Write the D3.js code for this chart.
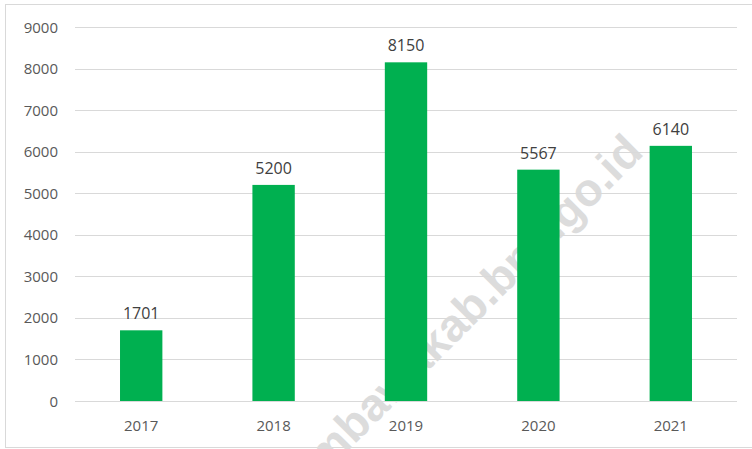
<!DOCTYPE html>
<html lang="en">
    <head>
        <meta charset="utf-8">
        <title>Bar chart 2017-2021</title>
        <script src="https://d3js.org/d3.v7.min.js"></script>
        <style type="text/css">
            body { margin: 0; background: #fff; }
            .tick-label { font-family: "Open Sans", sans-serif; font-size: 15px; fill: #595959; }
            .value-label { font-family: "Open Sans", sans-serif; font-size: 16px; fill: #404040; }
            .watermark { font-family: "Liberation Sans", Arial, sans-serif; font-weight: bold; font-size: 46px; fill: #dcdcdc; }
        </style>
    </head>
    <body>
        <script type="text/javascript">
            //data
            const years = ["2017", "2018", "2019", "2020", "2021"];
            const values = [1701, 5200, 8150, 5567, 6140];
            const yTicks = [0, 1000, 2000, 3000, 4000, 5000, 6000, 7000, 8000, 9000];

            const w = 752;
            const h = 449;
            const plotLeft = 75, plotRight = 737, plotTop = 27, plotBottom = 401;

            const svg = d3.select("body")
                    .append("svg")
                    .attr("width", w)
                    .attr("height", h);

            //frame
            svg.append("rect")
               .attr("x", 5.5).attr("y", 4.5)
               .attr("width", 760).attr("height", 443)
               .attr("fill", "none")
               .attr("stroke", "#d9d9d9");

            //scales
            const x = d3.scaleBand()
                        .domain(years)
                        .range([plotLeft, plotRight])
                        .paddingInner(0.68)
                        .paddingOuter(0.34);

            const y = d3.scaleLinear()
                        .domain([0, 9000])
                        .range([plotBottom, plotTop]);

            //watermark (behind everything)
            svg.append("text")
               .attr("class", "watermark")
               .attr("text-anchor", "end")
               .attr("transform", "translate(645,154) rotate(-45)")
               .text("sumbawakab.bps.go.id");

            //gridlines
            svg.selectAll("line.grid")
               .data(yTicks)
               .enter()
               .append("line")
               .attr("class", "grid")
               .attr("x1", plotLeft).attr("x2", plotRight)
               .attr("y1", d => Math.round(y(d)) + 0.5)
               .attr("y2", d => Math.round(y(d)) + 0.5)
               .attr("stroke", "#d9d9d9")
               .attr("stroke-width", 1);

            //y tick labels
            svg.selectAll("text.ytick")
               .data(yTicks)
               .enter()
               .append("text")
               .attr("class", "tick-label ytick")
               .attr("text-anchor", "end")
               .attr("x", 58)
               .attr("y", d => y(d) + 5.5)
               .text(d => d);

            //bars
            svg.selectAll("rect.bar")
               .data(values)
               .enter()
               .append("rect")
               .attr("class", "bar")
               .attr("x", (d, i) => x(years[i]))
               .attr("y", d => y(d))
               .attr("width", x.bandwidth())
               .attr("height", d => y(0) - y(d))
               .attr("fill", "#00b050");

            //value labels
            svg.selectAll("text.value")
               .data(values)
               .enter()
               .append("text")
               .attr("class", "value-label value")
               .attr("text-anchor", "middle")
               .attr("x", (d, i) => x(years[i]) + x.bandwidth() / 2)
               .attr("y", d => y(d) - 11)
               .text(d => d);

            //x labels
            svg.selectAll("text.xtick")
               .data(years)
               .enter()
               .append("text")
               .attr("class", "tick-label xtick")
               .attr("text-anchor", "middle")
               .attr("x", d => x(d) + x.bandwidth() / 2)
               .attr("y", 431)
               .text(d => d);
        </script>
    </body>
</html>
